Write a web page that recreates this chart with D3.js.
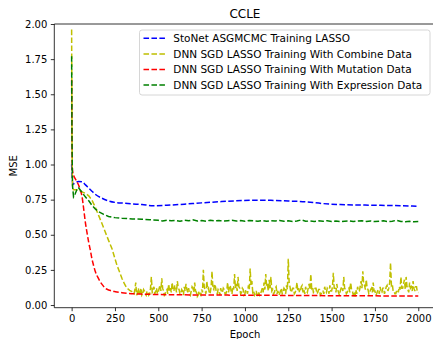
<!DOCTYPE html>
<html>
<head>
<meta charset="utf-8">
<script src="https://cdn.jsdelivr.net/npm/d3@7"></script>
<style>
  html, body { margin: 0; padding: 0; background: #fff; }
  svg { display: block; font-family: "DejaVu Sans", sans-serif; }
</style>
</head>
<body>
<svg id="chart" width="433" height="339"></svg>
<script>
// ---------------- data ----------------
const title = "CCLE";
const xLabel = "Epoch";
const yLabel = "MSE";
const xTicks = [0, 250, 500, 750, 1000, 1250, 1500, 1750, 2000];
const yTicks = [0.00, 0.25, 0.50, 0.75, 1.00, 1.25, 1.50, 1.75, 2.00];
const seriesNames = [
  "StoNet ASGMCMC Training LASSO",
  "DNN SGD LASSO Training With Combine Data",
  "DNN SGD LASSO Training With Mutation Data",
  "DNN SGD LASSO Training With Expression Data"
];
const seriesColors = ["#0000ff", "#bfbf00", "#ff0000", "#008000"];

// StoNet (blue)
const blueEpochs = [0, 3, 8, 20, 40, 59, 80, 100, 117, 140, 175, 210, 252, 300, 350, 406, 470, 550, 650, 750, 850, 950, 1050, 1150, 1250, 1350, 1450, 1550, 1650, 1750, 1850, 1950, 2000];
const blueValues = [1.0, 0.9, 0.86, 0.87, 0.88, 0.878, 0.855, 0.83, 0.81, 0.785, 0.76, 0.742, 0.73, 0.725, 0.72, 0.715, 0.707, 0.71, 0.718, 0.727, 0.735, 0.742, 0.745, 0.745, 0.74, 0.735, 0.722, 0.715, 0.712, 0.71, 0.708, 0.705, 0.703];

// Combine (yellow): early descent, then noisy plateau sampled every 5 epochs from 360 to 2000
const yellowEarlyEpochs = [0, 2, 4, 6, 10, 20, 30, 50, 80, 100, 117, 135, 155, 175, 194, 213, 233, 250, 261, 275, 290, 305, 319, 335, 348];
const yellowEarlyValues = [1.96, 1.2, 0.9, 0.84, 0.82, 0.82, 0.82, 0.81, 0.795, 0.775, 0.747, 0.70, 0.64, 0.58, 0.52, 0.46, 0.40, 0.33, 0.285, 0.24, 0.19, 0.15, 0.12, 0.105, 0.095];
const yellowNoiseStart = 360, yellowNoiseStep = 5;
const yellowNoiseValues = [
  0.08, 0.11, 0.16, 0.07, 0.09, 0.12, 0.07, 0.09,                                                 // 360-395
  0.12, 0.07, 0.08, 0.11, 0.10, 0.08, 0.07, 0.10, 0.09, 0.07, 0.08, 0.12, 0.20, 0.09, 0.10, 0.13, 0.08, 0.10, 0.12, 0.08, // 400-495
  0.09, 0.12, 0.14, 0.10, 0.19, 0.12, 0.10, 0.07, 0.08, 0.10, 0.11, 0.08, 0.15, 0.10, 0.12, 0.09, 0.16, 0.11, 0.10, 0.14, // 500-595
  0.13, 0.09, 0.17, 0.12, 0.11, 0.08, 0.08, 0.11, 0.10, 0.07, 0.13, 0.10, 0.15, 0.11, 0.09, 0.12, 0.08, 0.07, 0.10, 0.13, // 600-695
  0.12, 0.09, 0.16, 0.10, 0.09, 0.06, 0.07, 0.10, 0.08, 0.07, 0.11, 0.09, 0.25, 0.13, 0.10, 0.08, 0.17, 0.11, 0.12, 0.08, // 700-795
  0.09, 0.13, 0.24, 0.12, 0.11, 0.15, 0.13, 0.09, 0.08, 0.11, 0.10, 0.07, 0.12, 0.09, 0.09, 0.12, 0.11, 0.08, 0.08, 0.10, // 800-895
  0.16, 0.09, 0.12, 0.14, 0.10, 0.08, 0.13, 0.11, 0.22, 0.12, 0.15, 0.10, 0.20, 0.13, 0.12, 0.08, 0.09, 0.12, 0.11, 0.07, // 900-995
  0.08, 0.11, 0.10, 0.08, 0.14, 0.11, 0.26, 0.14, 0.17, 0.09, 0.10, 0.07, 0.08, 0.10, 0.07, 0.06, 0.09, 0.07, 0.08, 0.10, // 1000-1095
  0.12, 0.09, 0.16, 0.11, 0.22, 0.13, 0.14, 0.10, 0.18, 0.12, 0.20, 0.10, 0.11, 0.08, 0.09, 0.12, 0.13, 0.08, 0.10, 0.07, // 1100-1195
  0.08, 0.10, 0.12, 0.08, 0.09, 0.12, 0.11, 0.08, 0.14, 0.11, 0.33, 0.16, 0.13, 0.09, 0.10, 0.12, 0.12, 0.08, 0.09, 0.11, // 1200-1295
  0.16, 0.10, 0.12, 0.09, 0.10, 0.13, 0.14, 0.09, 0.11, 0.08, 0.13, 0.10, 0.09, 0.12, 0.15, 0.11, 0.22, 0.12, 0.13, 0.09, // 1300-1395
  0.10, 0.12, 0.12, 0.08, 0.09, 0.11, 0.11, 0.07, 0.08, 0.10, 0.10, 0.08, 0.13, 0.10, 0.09, 0.12, 0.11, 0.08, 0.14, 0.10, // 1400-1495
  0.10, 0.13, 0.23, 0.12, 0.12, 0.09, 0.15, 0.11, 0.09, 0.07, 0.10, 0.12, 0.13, 0.10, 0.20, 0.12, 0.11, 0.08, 0.09, 0.11, // 1500-1595
  0.12, 0.09, 0.16, 0.11, 0.10, 0.07, 0.08, 0.06, 0.11, 0.08, 0.13, 0.10, 0.10, 0.13, 0.17, 0.12, 0.24, 0.15, 0.14, 0.11, // 1600-1695
  0.18, 0.12, 0.11, 0.08, 0.09, 0.11, 0.12, 0.09, 0.16, 0.10, 0.10, 0.07, 0.08, 0.10, 0.11, 0.08, 0.13, 0.09, 0.09, 0.12, // 1700-1795
  0.12, 0.08, 0.10, 0.13, 0.14, 0.10, 0.12, 0.16, 0.30, 0.14, 0.15, 0.10, 0.10, 0.08, 0.08, 0.10, 0.11, 0.09, 0.13, 0.11, // 1800-1895
  0.20, 0.12, 0.12, 0.15, 0.18, 0.11, 0.20, 0.13, 0.11, 0.09, 0.16, 0.12, 0.13, 0.10, 0.17, 0.12, 0.10, 0.13, 0.13, 0.09, // 1900-1995
  0.09                                                                                                                // 2000
];

// Mutation (red)
const redEpochs = [0, 2, 4, 6, 11, 25, 40, 50, 59, 70, 79, 88, 98, 108, 117, 127, 136, 150, 165, 180, 194, 220, 252, 290, 329, 400, 500, 700, 1000, 1300, 1600, 2000];
const redValues = [1.6, 1.2, 0.98, 0.95, 0.925, 0.89, 0.854, 0.82, 0.78, 0.68, 0.59, 0.52, 0.45, 0.39, 0.33, 0.28, 0.24, 0.20, 0.166, 0.14, 0.12, 0.105, 0.095, 0.088, 0.083, 0.078, 0.075, 0.072, 0.07, 0.068, 0.066, 0.064];

// Expression (green)
const greenEpochs = [0, 2, 5, 11, 20, 30, 40, 55, 79, 100, 117, 135, 155, 185, 213, 250, 290, 350, 406, 450,
  500, 525, 550, 575, 600, 625, 650, 675, 700, 725, 750, 775, 800, 825, 850, 875, 900, 925, 950, 975,
  1000, 1025, 1050, 1075, 1100, 1125, 1150, 1175, 1200, 1225, 1250, 1275, 1300, 1325, 1350, 1375, 1400, 1425, 1450, 1475,
  1500, 1525, 1550, 1575, 1600, 1625, 1650, 1675, 1700, 1725, 1750, 1775, 1800, 1825, 1850, 1875, 1900, 1925, 1950, 1975, 2000];
const greenValues = [1.77, 1.2, 0.85, 0.77, 0.79, 0.82, 0.835, 0.81, 0.77, 0.74, 0.71, 0.685, 0.665, 0.645, 0.63, 0.622, 0.617, 0.613, 0.61, 0.607,
  0.603, 0.598, 0.604, 0.599, 0.602, 0.597, 0.603, 0.600, 0.606, 0.598, 0.601, 0.597, 0.604, 0.599, 0.602, 0.597, 0.600, 0.603, 0.598, 0.601,
  0.596, 0.602, 0.599, 0.597, 0.601, 0.596, 0.600, 0.598, 0.602, 0.596, 0.599, 0.595, 0.598, 0.606, 0.596, 0.598, 0.595, 0.599, 0.596, 0.600,
  0.595, 0.598, 0.594, 0.597, 0.599, 0.594, 0.597, 0.600, 0.595, 0.598, 0.594, 0.596, 0.599, 0.594, 0.597, 0.603, 0.595, 0.593, 0.596, 0.592, 0.594];

// ---------------- drawing ----------------
const svg = d3.select("#chart");
const plot = { left: 54.3, top: 24, right: 435.6, bottom: 307.7 };

const x = d3.scaleLinear().domain([-100, 2100]).range([plot.left, plot.right]);
const y = d3.scaleLinear().domain([-0.019, 2.0]).range([plot.bottom, plot.top]);

svg.append("defs").append("clipPath").attr("id", "clip")
  .append("rect")
  .attr("x", plot.left).attr("y", plot.top)
  .attr("width", plot.right - plot.left).attr("height", plot.bottom - plot.top);

const yellowNoiseEpochs = yellowNoiseValues.map((_, i) => yellowNoiseStart + i * yellowNoiseStep);
const yellowEpochs = yellowEarlyEpochs.concat(yellowNoiseEpochs);
const yellowValues = yellowEarlyValues.concat(yellowNoiseValues);

const series = [
  { name: seriesNames[0], color: seriesColors[0], xs: blueEpochs, ys: blueValues, curve: d3.curveMonotoneX },
  { name: seriesNames[1], color: seriesColors[1], xs: yellowEpochs, ys: yellowValues, curve: d3.curveLinear },
  { name: seriesNames[2], color: seriesColors[2], xs: redEpochs, ys: redValues, curve: d3.curveMonotoneX },
  { name: seriesNames[3], color: seriesColors[3], xs: greenEpochs, ys: greenValues, curve: d3.curveLinear }
];

const gLines = svg.append("g").attr("clip-path", "url(#clip)");
series.forEach(s => {
  const n = Math.min(s.xs.length, s.ys.length);
  const pts = d3.range(n).map(i => [s.xs[i], s.ys[i]]).filter(d => d[0] <= 2000);
  const line = d3.line().x(d => x(d[0])).y(d => y(d[1])).curve(s.curve);
  gLines.append("path")
    .attr("d", line(pts))
    .attr("fill", "none")
    .attr("stroke", s.color)
    .attr("stroke-width", 1.5)
    .attr("stroke-dasharray", "5.55,2.4");
});

// axes
const xAxis = d3.axisBottom(x).tickValues(xTicks).tickFormat(d3.format("d")).tickSize(3.5).tickPadding(3.5);
const yAxis = d3.axisLeft(y).tickValues(yTicks).tickFormat(d3.format(".2f")).tickSize(3.5).tickPadding(3.5);

const gx = svg.append("g").attr("transform", `translate(0,${plot.bottom})`).call(xAxis);
const gy = svg.append("g").attr("transform", `translate(${plot.left},0)`).call(yAxis);
[gx, gy].forEach(g => {
  g.selectAll("text").attr("font-size", 10).attr("font-family", "DejaVu Sans").attr("fill", "#000");
  g.selectAll("line").attr("stroke", "#000").attr("stroke-width", 0.8);
  g.select(".domain").attr("stroke", "#000").attr("stroke-width", 0.8);
});
gx.select(".domain").attr("d", `M${plot.left},0H${plot.right}`);
gy.select(".domain").attr("d", `M0,${plot.bottom}V${plot.top}`);

// top spine
svg.append("line")
  .attr("x1", plot.left).attr("x2", plot.right)
  .attr("y1", plot.top).attr("y2", plot.top)
  .attr("stroke", "#000").attr("stroke-width", 0.8);

// title & labels
svg.append("text")
  .attr("x", (plot.left + plot.right) / 2).attr("y", 18)
  .attr("text-anchor", "middle").attr("font-size", 12).text(title);

svg.append("text")
  .attr("x", (plot.left + plot.right) / 2).attr("y", 337.5)
  .attr("text-anchor", "middle").attr("font-size", 10).text(xLabel);

svg.append("text")
  .attr("transform", `translate(17,${(plot.top + plot.bottom) / 2}) rotate(-90)`)
  .attr("text-anchor", "middle").attr("font-size", 10).text(yLabel);

// legend
const leg = svg.append("g");
leg.append("rect")
  .attr("x", 139.5).attr("y", 30).attr("width", 290.5).attr("height", 65)
  .attr("rx", 2.5).attr("fill", "#fff").attr("fill-opacity", 0.8)
  .attr("stroke", "#cccccc").attr("stroke-width", 0.8);
const rowY = [38.3, 53.9, 69.5, 85.1];
series.forEach((s, i) => {
  leg.append("line")
    .attr("x1", 143.5).attr("x2", 165.5)
    .attr("y1", rowY[i]).attr("y2", rowY[i])
    .attr("stroke", s.color).attr("stroke-width", 1.5)
    .attr("stroke-dasharray", "5.55,2.4");
  leg.append("text")
    .attr("x", 173.3).attr("y", rowY[i])
    .attr("dy", "0.35em")
    .attr("font-size", 10.5)
    .text(s.name);
});
</script>
</body>
</html>
